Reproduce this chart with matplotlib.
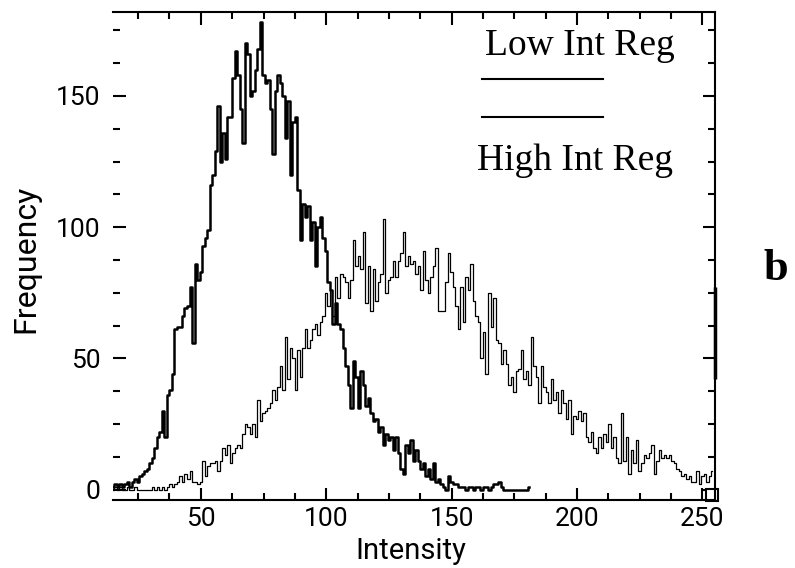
import numpy as np
import matplotlib.pyplot as plt
from matplotlib.lines import Line2D
from matplotlib.ticker import MultipleLocator

plt.rcParams['font.family'] = ['Roboto', 'DejaVu Sans']

# histogram counts, one value per intensity level
low_start = 15
low_freq = [1, 2, 1, 2, 1, 2, 3, 1, 3, 4, 3, 5, 6, 7, 8, 10, 12, 16, 20, 22,
            30, 20, 36, 38, 44, 61, 62, 62, 66, 69, 70, 77, 56, 86, 80, 83, 93, 96, 99, 116,
            120, 129, 146, 125, 136, 126, 142, 142, 157, 167, 158, 145, 132, 170, 166, 150, 152, 160, 168, 178,
            158, 155, 156, 145, 128, 152, 158, 155, 150, 134, 148, 120, 140, 142, 114, 95, 109, 104, 108, 95,
            102, 85, 100, 104, 96, 91, 79, 76, 63, 71, 63, 61, 54, 47, 40, 31, 49, 43, 31, 45,
            40, 32, 35, 29, 26, 27, 22, 24, 17, 21, 19, 20, 15, 20, 14, 8, 6, 17, 14, 19,
            11, 15, 11, 8, 10, 5, 8, 4, 10, 3, 4, 2, 1, 0, 5, 3, 2, 2, 1, 1,
            1, 0, 1, 1, 0, 1, 1, 0, 1, 1, 0, 1, 2, 2, 3, 1, 0, 0, 0, 0,
            0, 0, 0, 0, 0, 0, 1]

high_start = 15
high_freq = [0, 1, 0, 1, 0, 0, 1, 0, 0, 1, 0, 0, 0, 0, 0, 0, 1, 0, 1, 0,
             1, 0, 1, 2, 1, 2, 3, 5, 3, 6, 4, 7, 3, 3, 2, 3, 11, 5, 9, 10,
             10, 11, 7, 11, 16, 13, 17, 10, 14, 16, 17, 16, 21, 25, 24, 21, 25, 20, 34, 26,
             29, 30, 31, 33, 38, 34, 39, 47, 38, 58, 42, 54, 50, 38, 53, 43, 54, 61, 54, 57, 61, 63,
             59, 64, 66, 75, 70, 76, 66, 81, 73, 82, 81, 79, 73, 80, 95, 85, 89, 84, 98, 71,
             85, 68, 84, 72, 79, 82, 103, 75, 80, 81, 87, 81, 87, 90, 98, 85, 89, 86, 87, 82,
             85, 76, 91, 80, 75, 81, 85, 92, 68, 68, 68, 79, 90, 83, 77, 70, 61, 77, 64, 81,
             76, 86, 72, 66, 64, 50, 60, 44, 75, 62, 73, 57, 56, 48, 53, 48, 40, 43, 37, 45,
             46, 53, 42, 45, 40, 58, 47, 43, 33, 47, 39, 37, 33, 42, 34, 37, 29, 38, 33, 27,
             34, 21, 28, 27, 30, 26, 29, 20, 18, 22, 16, 14, 20, 16, 21, 18, 25, 16, 20, 12,
             10, 29, 11, 20, 6, 15, 10, 19, 7, 10, 13, 12, 14, 17, 6, 11, 15, 12, 13, 12,
             13, 11, 10, 8, 7, 5, 6, 4, 5, 3, 3, 7, 2, 5, 6, 3, 5, 7]

# saturated last bin and end-of-range box
sat_x = [255, 255]
sat_y = [42, 77]
end_box_x = [254]
end_box_y = [-2]

low_x = np.arange(low_start, low_start + len(low_freq))
high_x = np.arange(high_start, high_start + len(high_freq))

W, H = 795, 568
fig = plt.figure(figsize=(W / 100, H / 100), dpi=100)
ax = fig.add_axes([113 / W, 68 / H, 602 / W, 488 / H])

ax.plot(low_x, low_freq, drawstyle='steps-mid', color='black', lw=1.8)
ax.plot(high_x, high_freq, drawstyle='steps-mid', color='black', lw=0.9)
ax.plot(sat_x, sat_y, color='black', lw=2.5, clip_on=False, solid_capstyle='butt')
ax.plot(end_box_x, end_box_y, 's', ms=9, mfc='white', mec='black', mew=1.5, clip_on=False)

ax.set_xlim(15, 255)
ax.set_ylim(-4, 182)
ax.xaxis.set_major_locator(MultipleLocator(50))
ax.xaxis.set_minor_locator(MultipleLocator(12.5))
ax.yaxis.set_major_locator(MultipleLocator(50))
ax.yaxis.set_minor_locator(MultipleLocator(12.5))
ax.set_yticks([0, 50, 100, 150])

ax.tick_params(which='both', direction='in', top=True, right=True, width=1.5,
               labelsize=19, color='black')
ax.tick_params(which='major', length=9)
ax.tick_params(which='minor', length=5)
ax.tick_params(axis='y', pad=9)
ax.tick_params(axis='x', pad=5)

ax.spines['left'].set_visible(False)
for s in ['top', 'right', 'bottom']:
    ax.spines[s].set_linewidth(1.5)

ax.set_xlabel('Intensity', fontsize=21)
ax.xaxis.set_label_coords(0.495, -0.076)
ax.set_ylabel('Frequency', fontsize=23)
ax.yaxis.set_label_coords(-0.121, 0.495)

# hand-made key
fig.text(580 / W, 1 - 55 / H, 'Low Int Reg', ha='center', va='baseline',
         family='Liberation Serif', fontsize=27)
fig.text(575 / W, 1 - 170 / H, 'High Int Reg', ha='center', va='baseline',
         family='Liberation Serif', fontsize=27)
fig.add_artist(Line2D([482 / W, 603 / W], [1 - 79 / H] * 2, color='black', lw=1.5))
fig.add_artist(Line2D([482 / W, 603 / W], [1 - 117 / H] * 2, color='black', lw=1.5))

fig.text(776 / W, 1 - 280 / H, 'b', ha='center', va='baseline',
         family='Liberation Serif', fontweight='bold', fontsize=32)

plt.savefig('out.png', dpi=100)
